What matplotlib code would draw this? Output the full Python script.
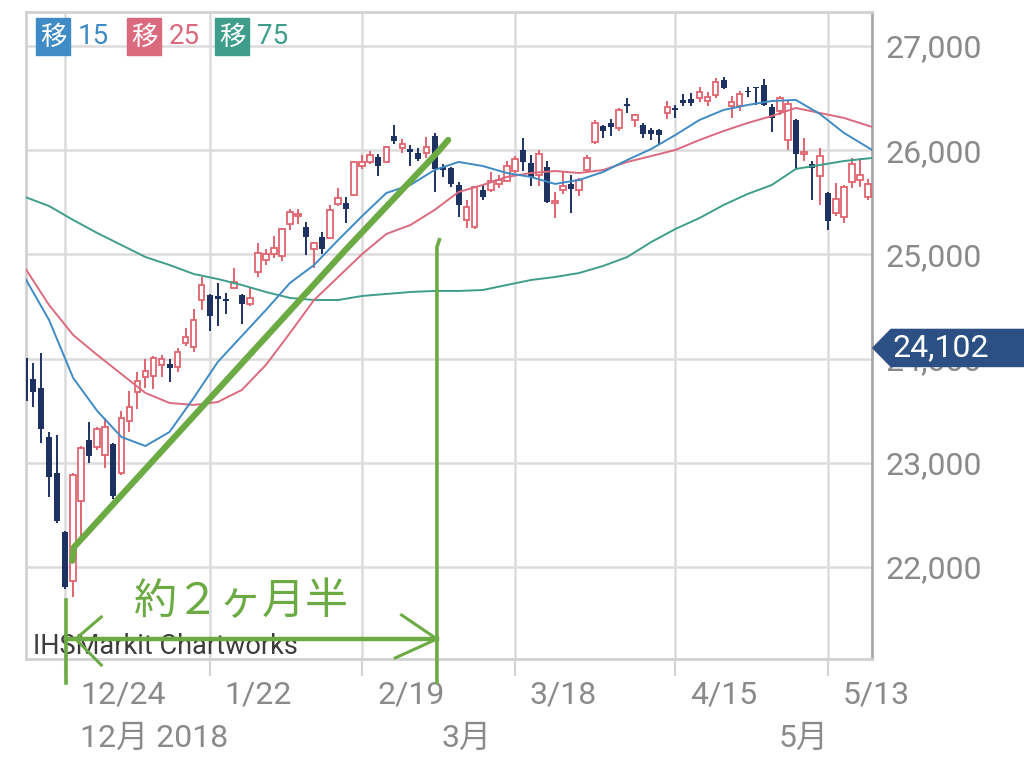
import numpy as np
import matplotlib
matplotlib.use('Agg')
import matplotlib.pyplot as plt
from matplotlib.patches import Polygon, Rectangle
from matplotlib.transforms import offset_copy, blended_transform_factory

plt.rcParams['font.family'] = ['Roboto', 'Noto Sans CJK JP', 'DejaVu Sans']

# daily candles, index 0 = 12/17
opens = [24010, 23800, 23715, 23250, 22900, 22340, 21870, 22630, 23215, 23150,
         23070, 23185, 22900, 23400, 23680, 23825, 23830, 23940, 23950, 23920,
         24150, 24110, 24560, 24610, 24600, 24575, 24680, 24610, 24520, 24830,
         24950, 25000, 24980, 25290, 25370, 25265, 25050, 25170, 25160, 25480,
         25490, 25570, 25845, 25890, 25930, 25890, 26140, 26020, 26010, 25970,
         25970, 26140, 25840, 25830, 25665, 25330, 25260, 25620, 25620, 25680,
         25700, 25800, 26000, 25880, 25760, 25840, 25490, 25620, 25680, 25620,
         25810, 26075, 26230, 26260, 26215, 26440, 26290, 26240, 26190, 26190,
         26360, 26405, 26480, 26490, 26505, 26470, 26530, 26670, 26420, 26420,
         26560, 26600, 26625, 26410, 26380, 26100, 26290, 25960, 25870, 25750,
         25590, 25400, 25360, 25695, 25715, 25550]
highs = [24040, 23960, 24055, 23295, 23270, 22350, 22900, 23160, 23390, 23345,
         23430, 23190, 23500, 23690, 23870, 24000, 24020, 24030, 24000, 24100,
         24290, 24480, 24780, 24620, 24730, 24630, 24870, 24615, 24690, 25110,
         25050, 25180, 25250, 25440, 25440, 25310, 25110, 25215, 25470, 25640,
         25550, 25890, 25950, 25990, 25960, 26040, 26240, 26110, 26050, 26020,
         26125, 26165, 25870, 25840, 25695, 25520, 25660, 25670, 25790, 25760,
         25900, 25940, 26120, 25950, 26000, 25900, 25600, 25800, 25760, 25730,
         25950, 26290, 26240, 26300, 26400, 26500, 26345, 26260, 26210, 26200,
         26470, 26430, 26540, 26550, 26610, 26560, 26690, 26700, 26520, 26570,
         26610, 26610, 26680, 26440, 26520, 26470, 26300, 26120, 25900, 26020,
         25600, 25685, 25665, 25925, 25925, 25720]
lows = [23560, 23535, 23190, 22670, 22420, 21792, 21712, 22270, 23000, 23120,
        22950, 22650, 22880, 23300, 23520, 23720, 23710, 23820, 23780, 23870,
        24120, 24060, 24470, 24260, 24310, 24430, 24680, 24330, 24500, 24780,
        24900, 24970, 24940, 25230, 25290, 24990, 24870, 25000, 25150, 25460,
        25300, 25560, 25820, 25870, 25750, 25880, 26060, 25975, 25850, 25900,
        25925, 25600, 25740, 25650, 25360, 25250, 25240, 25520, 25600, 25640,
        25690, 25780, 25800, 25660, 25660, 25490, 25350, 25580, 25400, 25560,
        25790, 26060, 26120, 26140, 26180, 26355, 26220, 26120, 26100, 26060,
        26300, 26310, 26420, 26420, 26460, 26420, 26500, 26585, 26310, 26380,
        26510, 26430, 26420, 26175, 26340, 26000, 25810, 25900, 25520, 25475,
        25235, 25370, 25300, 25640, 25650, 25520]
closes = [23592, 23676, 23323, 22859, 22445, 21810, 22878, 23138, 23062, 23327,
          23346, 22686, 23433, 23531, 23787, 23879, 24001, 23996, 23910, 24066,
          24207, 24370, 24706, 24404, 24575, 24553, 24737, 24528, 24580, 25014,
          24999, 25064, 25239, 25411, 25390, 25169, 25106, 25053, 25425, 25544,
          25439, 25883, 25891, 25954, 25850, 26031, 26092, 26057, 25985, 25916,
          26026, 25819, 25806, 25673, 25473, 25450, 25650, 25555, 25703, 25709,
          25849, 25914, 25887, 25745, 25963, 25502, 25516, 25658, 25626, 25717,
          25929, 26259, 26180, 26218, 26385, 26425, 26341, 26151, 26157, 26143,
          26412, 26384, 26452, 26450, 26559, 26512, 26656, 26597, 26462, 26543,
          26554, 26593, 26430, 26308, 26505, 26439, 25965, 25968, 25828, 25942,
          25324, 25532, 25648, 25863, 25764, 25680]

# moving averages read every 3 days
ma_idx = list(range(0, 105, 3)) + [105.5]
ma15 = [24774, 24370, 23814, 23497, 23248, 23161, 23296, 23622, 23967, 24217,
        24466, 24726, 24898, 25138, 25369, 25589, 25666, 25810, 25887, 25848,
        25781, 25743, 25676, 25714, 25791, 25906, 26012, 26146, 26290, 26386,
        26434, 26472, 26482, 26347, 26165, 26002]
ma25 = [24870, 24514, 24226, 24035, 23852, 23670, 23574, 23555, 23583, 23699,
        23939, 24246, 24562, 24783, 25004, 25196, 25282, 25426, 25599, 25666,
        25743, 25781, 25800, 25781, 25810, 25887, 25944, 26002, 26098, 26184,
        26261, 26328, 26405, 26357, 26309, 26223]
ma75 = [25551, 25464, 25330, 25205, 25090, 24975, 24898, 24812, 24764, 24706,
        24639, 24582, 24562, 24562, 24601, 24620, 24639, 24649, 24649, 24658,
        24706, 24754, 24783, 24821, 24889, 24975, 25119, 25244, 25349, 25474,
        25580, 25666, 25820, 25858, 25896, 25925]

tick_idx = [5, 23, 42, 61, 81, 100]
tick_labels = ['12/24', '1/22', '2/19', '3/18', '4/15', '5/13']
month_idx = [5, 50, 92]
month_labels = ['12月 2018', '3月', '5月']
yticks = [22000, 23000, 24000, 25000, 26000, 27000]
last_price = 24102

RED = '#e0646f'
NAVY = '#1e3262'
C15 = '#3f8bc5'
C25 = '#db6a7e'
C75 = '#3f9e8b'
GREEN = '#6cab44'
GRAY = '#8a8a8a'

fig = plt.figure(figsize=(10.24, 7.68), dpi=100)
ax = fig.add_axes([26/1024, 1-659/768, 846/1024, 647/768])

o = np.array(opens); h = np.array(highs); l = np.array(lows); c = np.array(closes)
idx = np.arange(len(c))
up = c >= o

# wicks then bodies
ax.vlines(idx, l, h, colors=np.where(up, RED, NAVY), lw=1.4, zorder=3)
body = np.maximum(np.abs(c - o), 18)
ax.bar(idx[up], body[up], bottom=np.minimum(o, c)[up], width=0.7,
       facecolor='white', edgecolor=RED, lw=1.3, zorder=4)
ax.bar(idx[~up], body[~up], bottom=np.minimum(o, c)[~up], width=0.75,
       color=NAVY, lw=0, zorder=4)

ax.plot(ma_idx, ma75, color=C75, lw=1.4, zorder=5)
ax.plot(ma_idx, ma25, color=C25, lw=1.4, zorder=5)
ax.plot(ma_idx, ma15, color=C15, lw=1.4, zorder=5)

ax.set_xlim(0.125, 105.48)
ax.set_ylim(21117, 27326)
ax.set_axisbelow(True)
ax.grid(color='#dcdcdc', lw=1.8)

ax.yaxis.tick_right()
ax.set_yticks(yticks)
ax.set_yticklabels([f'{v:,}' for v in yticks])
ax.tick_params(axis='y', length=0, pad=9.5, labelsize=23, labelcolor=GRAY)
ax.set_xticks(tick_idx)
ax.set_xticklabels([])
ax.tick_params(axis='x', length=12, width=1.5, color='#d2d2d2')

for side in ['left', 'top', 'bottom']:
    ax.spines[side].set_color('#d2d2d2')
    ax.spines[side].set_linewidth(2)
ax.spines['right'].set_color('#a8a8a8')
ax.spines['right'].set_linewidth(2)

# date labels, shifted right of the ticks
tr = offset_copy(ax.get_xaxis_transform(), fig=fig, x=15, y=0, units='dots')
for x, s in zip(tick_idx, tick_labels):
    ax.text(x, -0.0556, s, transform=tr, ha='left', va='center',
            fontsize=23, color=GRAY)
for x, s in zip(month_idx, month_labels):
    ax.text(x, -0.122, s, transform=tr, ha='left', va='center',
            fontsize=23, color=GRAY)

# last price marker (sits over the 24,000 label as in the app)
bt = blended_transform_factory(ax.transAxes, ax.transData)
hh = 178
ax.add_patch(Polygon([(1.001, last_price), (1.0225, last_price + hh), (1.25, last_price + hh),
                      (1.25, last_price - hh), (1.0225, last_price - hh)],
                     closed=True, transform=bt, color='#2c5083', clip_on=False, zorder=10))
ax.text(1.0248, last_price, f'{last_price:,}', transform=bt, ha='left', va='center',
        fontsize=23, color='white', zorder=11)

# legend boxes
for x0, lab, col in [(36, '15', C15), (127, '25', C25), (215, '75', C75)]:
    fig.add_artist(Rectangle((x0/1024, 1-55/768), 34/1024, 37/768,
                             transform=fig.transFigure, color=col, zorder=12))
    fig.text((x0+17)/1024, 1-37/768, '移', ha='center', va='center', color='white',
             fontsize=19, family=['Noto Sans CJK JP'], zorder=13)
    fig.text((x0+42)/1024, 1-37/768, lab, ha='left', va='center', color=col,
             fontsize=20, zorder=13)

ax.text(0.0083, 0.008, 'IHSMarkit Chartworks', transform=ax.transAxes,
        ha='left', va='baseline', fontsize=19.5, color='#3c3c3c', zorder=6)

# green hand drawn annotations
ax.plot([5.9, 6.1, 40.0, 51.5, 52.7], [22060, 22190, 25050, 25990, 26098],
        color=GREEN, lw=4.5, solid_capstyle='round', zorder=7)
ax.plot([51.3, 51.3, 51.6], [20896, 25070, 25140], color=GREEN, lw=2.6,
        clip_on=False, zorder=7)
ax.plot([5.1, 5.1], [21683, 20887], color=GREEN, lw=2.6, clip_on=False, zorder=7)
ax.plot([5.1, 51.3], [21309, 21309], color=GREEN, lw=3.2, clip_on=False, zorder=7)
ax.plot([9.5, 6.3, 9.5], [21520, 21309, 21059], color=GREEN, lw=2.2, clip_on=False, zorder=7)
ax.plot([46.9, 51.3, 46.1], [21539, 21309, 21127], color=GREEN, lw=2.2, clip_on=False, zorder=7)
ax.text(27.0, 21664, '約２ヶ月半', ha='center', va='center', fontsize=31,
        color=GREEN, family=['Noto Sans CJK JP'], zorder=7)

fig.savefig('out.png', dpi=100)
